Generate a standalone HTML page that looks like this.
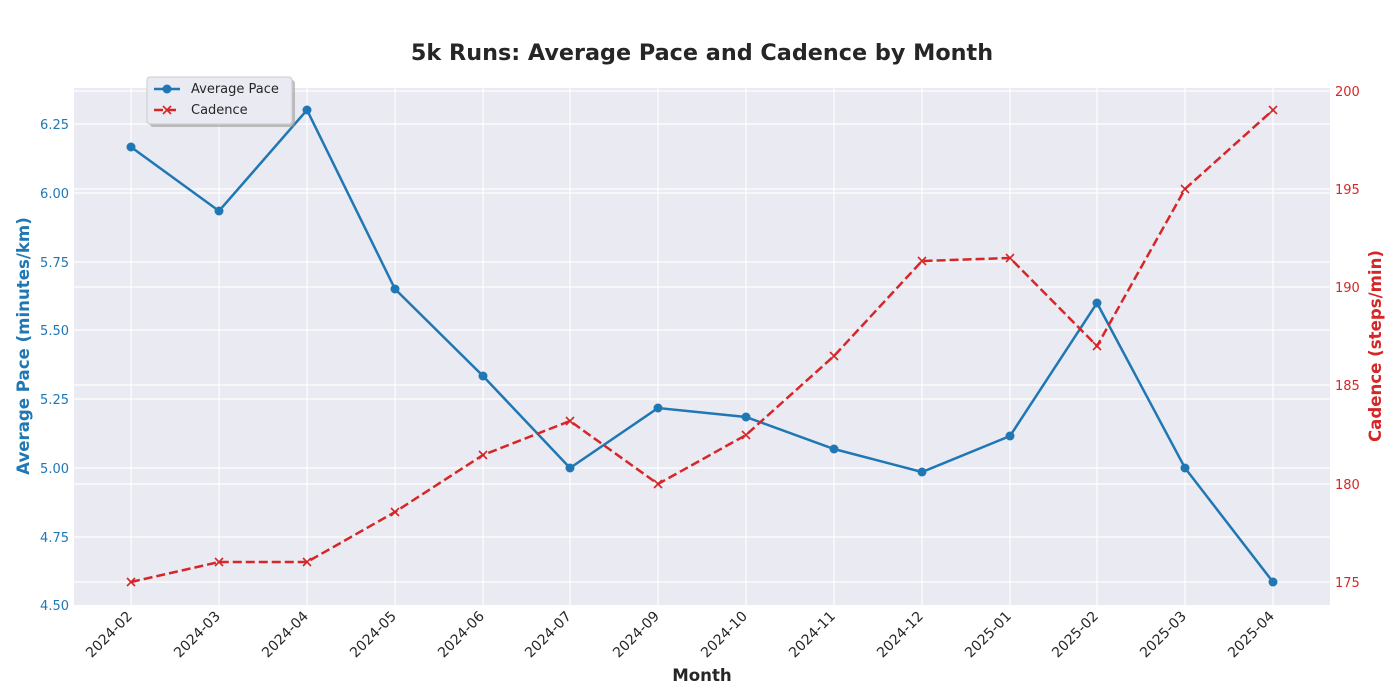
<!DOCTYPE html>
<html><head><meta charset="utf-8"><style>body{margin:0;background:#fff}svg{display:block;font-family:"DejaVu Sans","Liberation Sans",sans-serif}</style></head><body>
<svg width="1400" height="700" xmlns="http://www.w3.org/2000/svg">
<rect width="1400" height="700" fill="#fff"/>
<text x="702" y="60" text-anchor="middle" font-size="22.3" font-weight="bold" fill="#262626">5k Runs: Average Pace and Cadence by Month</text>
<rect x="74" y="88" width="1256" height="517" fill="#eaeaf2"/>
<g stroke="#fff" stroke-width="1.2">
<line x1="131" y1="88" x2="131" y2="605"/><line x1="219" y1="88" x2="219" y2="605"/><line x1="307" y1="88" x2="307" y2="605"/><line x1="395" y1="88" x2="395" y2="605"/><line x1="483" y1="88" x2="483" y2="605"/><line x1="570" y1="88" x2="570" y2="605"/><line x1="658" y1="88" x2="658" y2="605"/><line x1="746" y1="88" x2="746" y2="605"/><line x1="834" y1="88" x2="834" y2="605"/><line x1="922" y1="88" x2="922" y2="605"/><line x1="1010" y1="88" x2="1010" y2="605"/><line x1="1097" y1="88" x2="1097" y2="605"/><line x1="1185" y1="88" x2="1185" y2="605"/><line x1="1273" y1="88" x2="1273" y2="605"/>
<line x1="74" y1="124" x2="1330" y2="124"/><line x1="74" y1="193" x2="1330" y2="193"/><line x1="74" y1="262" x2="1330" y2="262"/><line x1="74" y1="330" x2="1330" y2="330"/><line x1="74" y1="399" x2="1330" y2="399"/><line x1="74" y1="468" x2="1330" y2="468"/><line x1="74" y1="537" x2="1330" y2="537"/>
<line x1="74" y1="582" x2="1330" y2="582"/><line x1="74" y1="484" x2="1330" y2="484"/><line x1="74" y1="385" x2="1330" y2="385"/><line x1="74" y1="287" x2="1330" y2="287"/><line x1="74" y1="189" x2="1330" y2="189"/><line x1="74" y1="91" x2="1330" y2="91"/>
</g>
<g font-size="13" fill="#1f77b4" text-anchor="end">
<text x="69" y="129">6.25</text><text x="69" y="198">6.00</text><text x="69" y="267">5.75</text><text x="69" y="335">5.50</text><text x="69" y="404">5.25</text><text x="69" y="473">5.00</text><text x="69" y="542">4.75</text><text x="69" y="610">4.50</text>
</g>
<g font-size="13" fill="#d62728">
<text x="1335" y="587">175</text><text x="1335" y="489">180</text><text x="1335" y="390">185</text><text x="1335" y="292">190</text><text x="1335" y="194">195</text><text x="1335" y="96">200</text>
</g>
<g font-size="14" fill="#262626" text-anchor="end">
<text transform="translate(133,617) rotate(-45)">2024-02</text><text transform="translate(221,617) rotate(-45)">2024-03</text><text transform="translate(309,617) rotate(-45)">2024-04</text><text transform="translate(397,617) rotate(-45)">2024-05</text><text transform="translate(485,617) rotate(-45)">2024-06</text><text transform="translate(572,617) rotate(-45)">2024-07</text><text transform="translate(660,617) rotate(-45)">2024-09</text><text transform="translate(748,617) rotate(-45)">2024-10</text><text transform="translate(836,617) rotate(-45)">2024-11</text><text transform="translate(924,617) rotate(-45)">2024-12</text><text transform="translate(1012,617) rotate(-45)">2025-01</text><text transform="translate(1099,617) rotate(-45)">2025-02</text><text transform="translate(1187,617) rotate(-45)">2025-03</text><text transform="translate(1275,617) rotate(-45)">2025-04</text>
</g>
<text x="702" y="681" text-anchor="middle" font-size="16.6" font-weight="bold" fill="#262626">Month</text>
<text transform="translate(29,346) rotate(-90)" text-anchor="middle" font-size="16.6" font-weight="bold" fill="#1f77b4">Average Pace (minutes/km)</text>
<text transform="translate(1381,346) rotate(-90)" text-anchor="middle" font-size="16.6" font-weight="bold" fill="#d62728">Cadence (steps/min)</text>
<polyline fill="none" stroke="#1f77b4" stroke-width="2.5" points="131,147 219,211 307,110 395,289 483,376 570,468 658,408 746,417 834,449 922,472 1010,436 1097,303 1185,468 1273,582"/>
<g fill="#1f77b4"><circle cx="131" cy="147" r="4.5"/><circle cx="219" cy="211" r="4.5"/><circle cx="307" cy="110" r="4.5"/><circle cx="395" cy="289" r="4.5"/><circle cx="483" cy="376" r="4.5"/><circle cx="570" cy="468" r="4.5"/><circle cx="658" cy="408" r="4.5"/><circle cx="746" cy="417" r="4.5"/><circle cx="834" cy="449" r="4.5"/><circle cx="922" cy="472" r="4.5"/><circle cx="1010" cy="436" r="4.5"/><circle cx="1097" cy="303" r="4.5"/><circle cx="1185" cy="468" r="4.5"/><circle cx="1273" cy="582" r="4.5"/></g>
<polyline fill="none" stroke="#d62728" stroke-width="2.5" stroke-dasharray="9,4" points="131,582 219,562 307,562 395,512 483,455 570,421 658,484 746,435 834,356 922,261 1010,258 1097,346 1185,189 1273,110"/>
<g stroke="#d62728" stroke-width="1.6">
<path d="M127,578l8,8m0-8l-8,8M215,558l8,8m0-8l-8,8M303,558l8,8m0-8l-8,8M391,508l8,8m0-8l-8,8M479,451l8,8m0-8l-8,8M566,417l8,8m0-8l-8,8M654,480l8,8m0-8l-8,8M742,431l8,8m0-8l-8,8M830,352l8,8m0-8l-8,8M918,257l8,8m0-8l-8,8M1006,254l8,8m0-8l-8,8M1093,342l8,8m0-8l-8,8M1181,185l8,8m0-8l-8,8M1269,106l8,8m0-8l-8,8"/>
</g>
<rect x="150" y="80" width="145" height="47" rx="3" fill="#999" opacity="0.6"/>
<rect x="147" y="77" width="145" height="47" rx="3" fill="#eaeaf2" stroke="#ccc"/>
<line x1="154" y1="89" x2="180" y2="89" stroke="#1f77b4" stroke-width="2.5"/><circle cx="167" cy="89" r="4.5" fill="#1f77b4"/>
<text x="191" y="93" font-size="13" fill="#262626">Average Pace</text>
<line x1="154" y1="110" x2="180" y2="110" stroke="#d62728" stroke-width="2.5" stroke-dasharray="9,4"/><path d="M163,106l8,8m0-8l-8,8" stroke="#d62728" stroke-width="1.6"/>
<text x="191" y="114" font-size="13" fill="#262626">Cadence</text>
</svg>
</body></html>
